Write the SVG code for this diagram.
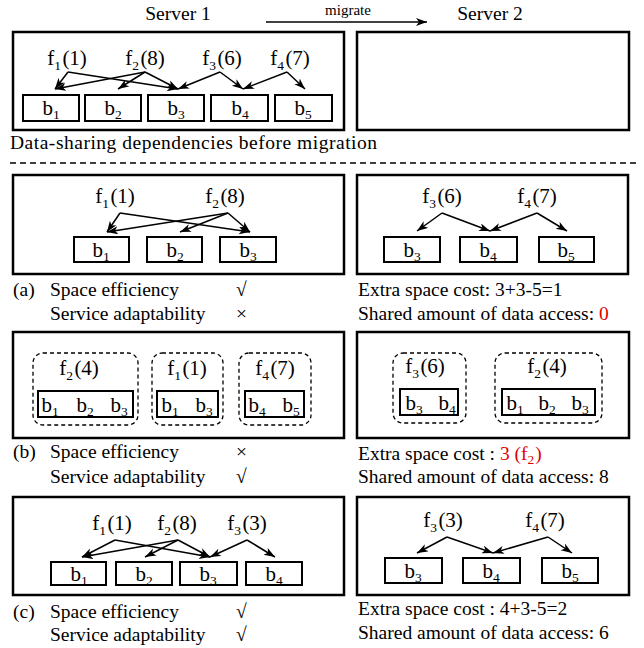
<svg xmlns="http://www.w3.org/2000/svg" width="644" height="648" viewBox="0 0 644 648">
<defs>
<marker id="ah" markerUnits="userSpaceOnUse" markerWidth="12" markerHeight="10" refX="11" refY="4" orient="auto">
<path d="M0,0 L11,4 L0,8 L3,4 z" fill="#000"/>
</marker>
<style>
text{font-family:"Liberation Serif","Times New Roman",serif;fill:#000}
.t{font-size:19.5px}
.f{font-size:21px;text-anchor:middle}
.sm{font-size:13.5px}
.box{fill:none;stroke:#000;stroke-width:2.5}
.b{fill:#fff;stroke:#000;stroke-width:2}
.g{fill:none;stroke:#000;stroke-width:1.3;stroke-dasharray:4,3}
.a{stroke:#000;stroke-width:1.5;fill:none;marker-end:url(#ah)}
</style>
</defs>

<g id="header">
<text class="t" x="178" y="20" text-anchor="middle">Server 1</text>
<text class="t" x="490" y="20" text-anchor="middle">Server 2</text>
<text x="348" y="15" font-size="15" text-anchor="middle">migrate</text>
<line x1="266" y1="22" x2="427" y2="22" class="a"/>
</g>

<!-- Top -->
<g id="top-server1">
<rect class="box" x="13" y="32" width="331" height="98"/>
</g>
<g id="top-server2"><rect class="box" x="357" y="32" width="272" height="98"/></g>
<g id="top-f1"><text class="f" x="67" y="65">f<tspan class="sm" dy="5">1</tspan><tspan dy="-5" dx="1.5">(1)</tspan></text></g>
<g id="top-f2"><text class="f" x="145" y="65">f<tspan class="sm" dy="5">2</tspan><tspan dy="-5" dx="1.5">(8)</tspan></text></g>
<g id="top-f3"><text class="f" x="222" y="65">f<tspan class="sm" dy="5">3</tspan><tspan dy="-5" dx="1.5">(6)</tspan></text></g>
<g id="top-f4"><text class="f" x="290" y="65">f<tspan class="sm" dy="5">4</tspan><tspan dy="-5" dx="1.5">(7)</tspan></text></g>
<g id="top-b1"><rect class="b" x="23" y="95" width="56" height="26"/><text class="f" x="51" y="115">b<tspan class="sm" dy="4">1</tspan></text></g>
<g id="top-b2"><rect class="b" x="85" y="95" width="56" height="26"/><text class="f" x="113" y="115">b<tspan class="sm" dy="4">2</tspan></text></g>
<g id="top-b3"><rect class="b" x="148" y="95" width="56" height="26"/><text class="f" x="176" y="115">b<tspan class="sm" dy="4">3</tspan></text></g>
<g id="top-b4"><rect class="b" x="211" y="95" width="57" height="26"/><text class="f" x="240" y="115">b<tspan class="sm" dy="4">4</tspan></text></g>
<g id="top-b5"><rect class="b" x="275" y="95" width="57" height="26"/><text class="f" x="303" y="115">b<tspan class="sm" dy="4">5</tspan></text></g>
<text class="t" x="10" y="149" textLength="367" lengthAdjust="spacing">Data-sharing dependencies before migration</text>

<line x1="10" y1="163" x2="636" y2="163" stroke="#000" stroke-width="1.3" stroke-dasharray="6,4"/>

<!-- (a) -->
<g id="a-server1"><rect class="box" x="13" y="175" width="331" height="99"/></g>
<g id="a-server2"><rect class="box" x="357" y="175" width="271" height="99"/></g>
<g id="a-f1"><text class="f" x="115" y="203">f<tspan class="sm" dy="5">1</tspan><tspan dy="-5" dx="1.5">(1)</tspan></text></g>
<g id="a-f2"><text class="f" x="225" y="203">f<tspan class="sm" dy="5">2</tspan><tspan dy="-5" dx="1.5">(8)</tspan></text></g>
<g id="a-b1"><rect class="b" x="74" y="237" width="55" height="25"/><text class="f" x="101" y="257">b<tspan class="sm" dy="4">1</tspan></text></g>
<g id="a-b2"><rect class="b" x="147" y="237" width="55" height="25"/><text class="f" x="175" y="257">b<tspan class="sm" dy="4">2</tspan></text></g>
<g id="a-b3"><rect class="b" x="220" y="237" width="56" height="25"/><text class="f" x="248" y="257">b<tspan class="sm" dy="4">3</tspan></text></g>
<g id="a-f3"><text class="f" x="442" y="203">f<tspan class="sm" dy="5">3</tspan><tspan dy="-5" dx="1.5">(6)</tspan></text></g>
<g id="a-f4"><text class="f" x="537" y="203">f<tspan class="sm" dy="5">4</tspan><tspan dy="-5" dx="1.5">(7)</tspan></text></g>
<g id="a-b3r"><rect class="b" x="384" y="237" width="56" height="25"/><text class="f" x="412" y="257">b<tspan class="sm" dy="4">3</tspan></text></g>
<g id="a-b4r"><rect class="b" x="460" y="237" width="57" height="25"/><text class="f" x="488" y="257">b<tspan class="sm" dy="4">4</tspan></text></g>
<g id="a-b5r"><rect class="b" x="539" y="237" width="55" height="25"/><text class="f" x="566" y="257">b<tspan class="sm" dy="4">5</tspan></text></g>
<text class="t" x="13" y="296">(a)</text>
<text class="t" x="50" y="296">Space efficiency</text>
<text class="t" x="236" y="296">√</text>
<text class="t" x="50" y="320">Service adaptability</text>
<text class="t" x="236" y="320">×</text>
<text class="t" x="358" y="296">Extra space cost: 3+3-5=1</text>
<text class="t" x="358" y="320">Shared amount of data access: <tspan fill="#e00000">0</tspan></text>

<!-- (b) -->
<g id="b-server1"><rect class="box" x="13" y="332" width="331" height="106"/></g>
<g id="b-server2"><rect class="box" x="357" y="332" width="272" height="106"/></g>
<g id="b-g1"><rect class="g" x="33" y="353" width="105" height="72" rx="10"/>
<text class="f" x="79" y="375">f<tspan class="sm" dy="5">2</tspan><tspan dy="-5" dx="1.5">(4)</tspan></text>
<rect class="b" x="38" y="391" width="95" height="26"/>
<text class="f" x="50" y="412">b<tspan class="sm" dy="4">1</tspan></text>
<text class="f" x="85" y="412">b<tspan class="sm" dy="4">2</tspan></text>
<text class="f" x="119" y="412">b<tspan class="sm" dy="4">3</tspan></text></g>
<g id="b-g2"><rect class="g" x="152" y="353" width="71" height="72" rx="10"/>
<text class="f" x="187" y="375">f<tspan class="sm" dy="5">1</tspan><tspan dy="-5" dx="1.5">(1)</tspan></text>
<rect class="b" x="157" y="391" width="61" height="26"/>
<text class="f" x="170" y="412">b<tspan class="sm" dy="4">1</tspan></text>
<text class="f" x="204" y="412">b<tspan class="sm" dy="4">3</tspan></text></g>
<g id="b-g3"><rect class="g" x="239" y="353" width="72" height="72" rx="10"/>
<text class="f" x="275" y="375">f<tspan class="sm" dy="5">4</tspan><tspan dy="-5" dx="1.5">(7)</tspan></text>
<rect class="b" x="245" y="391" width="59" height="26"/>
<text class="f" x="257" y="412">b<tspan class="sm" dy="4">4</tspan></text>
<text class="f" x="291" y="412">b<tspan class="sm" dy="4">5</tspan></text></g>
<g id="b-g4"><rect class="g" x="393" y="353" width="73" height="70" rx="10"/>
<text class="f" x="425" y="373">f<tspan class="sm" dy="5">3</tspan><tspan dy="-5" dx="1.5">(6)</tspan></text>
<rect class="b" x="400" y="389" width="58" height="26"/>
<text class="f" x="414" y="410">b<tspan class="sm" dy="4">3</tspan></text>
<text class="f" x="447" y="410">b<tspan class="sm" dy="4">4</tspan></text></g>
<g id="b-g5"><rect class="g" x="495" y="353" width="107" height="70" rx="10"/>
<text class="f" x="547" y="373">f<tspan class="sm" dy="5">2</tspan><tspan dy="-5" dx="1.5">(4)</tspan></text>
<rect class="b" x="502" y="389" width="93" height="26"/>
<text class="f" x="515" y="410">b<tspan class="sm" dy="4">1</tspan></text>
<text class="f" x="547" y="410">b<tspan class="sm" dy="4">2</tspan></text>
<text class="f" x="580" y="410">b<tspan class="sm" dy="4">3</tspan></text></g>
<text class="t" x="13" y="458">(b)</text>
<text class="t" x="50" y="458">Space efficiency</text>
<text class="t" x="236" y="458">×</text>
<text class="t" x="50" y="483">Service adaptability</text>
<text class="t" x="236" y="483">√</text>
<text class="t" x="358" y="460">Extra space cost : <tspan fill="#e00000">3 (f<tspan class="sm" dy="4">2</tspan><tspan dy="-4" dx="1">)</tspan></tspan></text>
<text class="t" x="358" y="483">Shared amount of  data access: 8</text>

<!-- (c) -->
<g id="c-server1"><rect class="box" x="13" y="497" width="331" height="98"/></g>
<g id="c-server2"><rect class="box" x="357" y="497" width="272" height="98"/></g>
<g id="c-f1"><text class="f" x="112" y="530">f<tspan class="sm" dy="5">1</tspan><tspan dy="-5" dx="1.5">(1)</tspan></text></g>
<g id="c-f2"><text class="f" x="177" y="530">f<tspan class="sm" dy="5">2</tspan><tspan dy="-5" dx="1.5">(8)</tspan></text></g>
<g id="c-f3"><text class="f" x="247" y="530">f<tspan class="sm" dy="5">3</tspan><tspan dy="-5" dx="1.5">(3)</tspan></text></g>
<g id="c-b1"><rect class="b" x="51" y="562" width="55" height="23"/><text class="f" x="79" y="581">b<tspan class="sm" dy="4">1</tspan></text></g>
<g id="c-b2"><rect class="b" x="116" y="562" width="56" height="23"/><text class="f" x="144" y="581">b<tspan class="sm" dy="4">2</tspan></text></g>
<g id="c-b3"><rect class="b" x="180" y="562" width="57" height="23"/><text class="f" x="208" y="581">b<tspan class="sm" dy="4">3</tspan></text></g>
<g id="c-b4"><rect class="b" x="246" y="562" width="56" height="23"/><text class="f" x="274" y="581">b<tspan class="sm" dy="4">4</tspan></text></g>
<g id="c-f3r"><text class="f" x="443" y="527">f<tspan class="sm" dy="5">3</tspan><tspan dy="-5" dx="1.5">(3)</tspan></text></g>
<g id="c-f4r"><text class="f" x="545" y="527">f<tspan class="sm" dy="5">4</tspan><tspan dy="-5" dx="1.5">(7)</tspan></text></g>
<g id="c-b3r"><rect class="b" x="385" y="558" width="57" height="25"/><text class="f" x="413" y="578">b<tspan class="sm" dy="4">3</tspan></text></g>
<g id="c-b4r"><rect class="b" x="463" y="558" width="57" height="25"/><text class="f" x="491" y="578">b<tspan class="sm" dy="4">4</tspan></text></g>
<g id="c-b5r"><rect class="b" x="542" y="558" width="56" height="25"/><text class="f" x="570" y="578">b<tspan class="sm" dy="4">5</tspan></text></g>
<text class="t" x="13" y="618">(c)</text>
<text class="t" x="50" y="618">Space efficiency</text>
<text class="t" x="236" y="618">√</text>
<text class="t" x="50" y="641">Service adaptability</text>
<text class="t" x="236" y="641">√</text>
<text class="t" x="358" y="615">Extra space cost : 4+3-5=2</text>
<text class="t" x="358" y="639">Shared amount of data access: 6</text>

<g id="connectors">
<!-- top -->
<line class="a" x1="68" y1="72" x2="55" y2="89"/>
<line class="a" x1="68" y1="72" x2="178" y2="89"/>
<line class="a" x1="145" y1="72" x2="55" y2="89"/>
<line class="a" x1="145" y1="72" x2="118" y2="89"/>
<line class="a" x1="145" y1="72" x2="178" y2="89"/>
<line class="a" x1="220" y1="72" x2="178" y2="89"/>
<line class="a" x1="220" y1="72" x2="243" y2="89"/>
<line class="a" x1="287" y1="72" x2="243" y2="89"/>
<line class="a" x1="287" y1="72" x2="305" y2="89"/>
<!-- (a) -->
<line class="a" x1="120" y1="213" x2="107" y2="232"/>
<line class="a" x1="120" y1="213" x2="250" y2="232"/>
<line class="a" x1="228" y1="213" x2="107" y2="232"/>
<line class="a" x1="228" y1="213" x2="180" y2="232"/>
<line class="a" x1="228" y1="213" x2="250" y2="232"/>
<line class="a" x1="442" y1="213" x2="417" y2="231"/>
<line class="a" x1="442" y1="213" x2="490" y2="231"/>
<line class="a" x1="537" y1="213" x2="490" y2="231"/>
<line class="a" x1="537" y1="213" x2="567" y2="231"/>
<!-- (c) -->
<line class="a" x1="115" y1="540" x2="82" y2="557"/>
<line class="a" x1="115" y1="540" x2="210" y2="557"/>
<line class="a" x1="178" y1="540" x2="82" y2="557"/>
<line class="a" x1="178" y1="540" x2="145" y2="557"/>
<line class="a" x1="178" y1="540" x2="210" y2="557"/>
<line class="a" x1="247" y1="540" x2="210" y2="557"/>
<line class="a" x1="247" y1="540" x2="275" y2="557"/>
<line class="a" x1="447" y1="537" x2="417" y2="553"/>
<line class="a" x1="447" y1="537" x2="493" y2="553"/>
<line class="a" x1="548" y1="537" x2="493" y2="553"/>
<line class="a" x1="548" y1="537" x2="572" y2="553"/>
</g>
</svg>
